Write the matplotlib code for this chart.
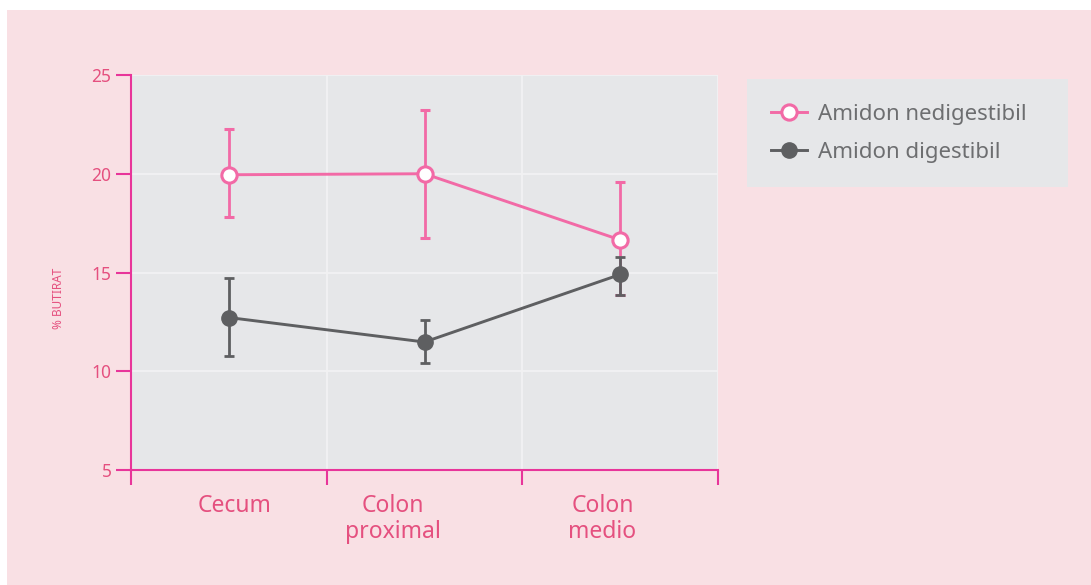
import numpy as np
import matplotlib.pyplot as plt
from matplotlib.patches import Rectangle
from matplotlib.lines import Line2D

plt.rcParams['font.family'] = ['Noto Sans', 'DejaVu Sans']

# date
categorii = ['Cecum', 'Colon\nproximal', 'Colon\nmedio']
nedig = [19.95, 20.0, 16.65]
nedig_sus = [22.27, 23.23, 19.58]
nedig_jos = [17.81, 16.75, 13.85]
dig = [12.72, 11.48, 14.9]
dig_sus = [14.7, 12.6, 15.78]
dig_jos = [10.77, 10.42, 13.88]

roz = '#F26AA6'
gri = '#5E5F61'
magenta = '#E8359A'
text_roz = '#E5507F'

fig = plt.figure(figsize=(10.91, 5.85), dpi=100, facecolor='white')
# fundalul roz (lasa o margine alba sus si la stanga)
fig.add_artist(Rectangle((7 / 1091, 0), 1, 575 / 585, transform=fig.transFigure,
                         facecolor='#F9E0E4', edgecolor='none', zorder=-10))
ax = fig.add_axes([131 / 1091, 1 - 470 / 585, 587 / 1091, 395 / 585])
ax.set_facecolor('#E6E7E9')

x = np.arange(len(categorii)) + 0.5

stil_nedig = dict(color=roz, lw=2.1, marker='o', ms=11, mfc='white', mec=roz, mew=2.2)
stil_dig = dict(color=gri, lw=2.1, marker='o', ms=11, mfc=gri, mec=gri)

ax.errorbar(x, nedig, yerr=[np.array(nedig) - nedig_jos, np.array(nedig_sus) - nedig],
            elinewidth=2, capsize=3.5, capthick=2, zorder=3, **stil_nedig)
ax.errorbar(x, dig, yerr=[np.array(dig) - dig_jos, np.array(dig_sus) - dig],
            elinewidth=2, capsize=3.5, capthick=2, zorder=4, **stil_dig)

ax.set_xlim(0, 3)
ax.set_ylim(5, 25)
ax.set_yticks([5, 10, 15, 20, 25])
ax.set_xticks([0, 1, 2, 3])
ax.set_xticklabels([])
ax.set_xticks([0.53, 1.34, 2.41], minor=True)
ax.set_xticklabels(categorii, minor=True, fontsize=16.5, color=text_roz, linespacing=1.15)
ax.tick_params(axis='x', which='minor', length=0, pad=17)
ax.tick_params(axis='x', which='major', length=11, width=1.5, color=magenta, direction='out')
ax.tick_params(axis='y', length=11, width=1.5, color=magenta, labelsize=12.5,
               labelcolor=text_roz, pad=3)

ax.grid(True, which='major', color='#F2F2F3', lw=1.3)
ax.set_axisbelow(True)
for s in ['top', 'right']:
    ax.spines[s].set_visible(False)
for s in ['left', 'bottom']:
    ax.spines[s].set_color(magenta)
    ax.spines[s].set_linewidth(1.5)

fig.text(58 / 1091, 1 - 298 / 585, '% BUTIRAT', rotation=90, fontsize=8.5,
         color=text_roz, ha='center', va='center')

handles = [Line2D([], [], **stil_nedig), Line2D([], [], **stil_dig)]
leg = ax.legend(handles, ['Amidon nedigestibil', 'Amidon digestibil'],
                loc='upper left', bbox_to_anchor=(747 / 1091, 1 - 80 / 585, 321 / 1091, 0.001),
                bbox_transform=fig.transFigure, mode='expand', fontsize=16,
                frameon=True, fancybox=False, facecolor='#E6E7E9', edgecolor='none',
                framealpha=1, borderpad=1.1, handlelength=1.6, handletextpad=0.5,
                labelspacing=0.75, borderaxespad=0)
for t in leg.get_texts():
    t.set_color('#6D6E70')

fig.savefig('out.png', dpi=100, facecolor=fig.get_facecolor())
